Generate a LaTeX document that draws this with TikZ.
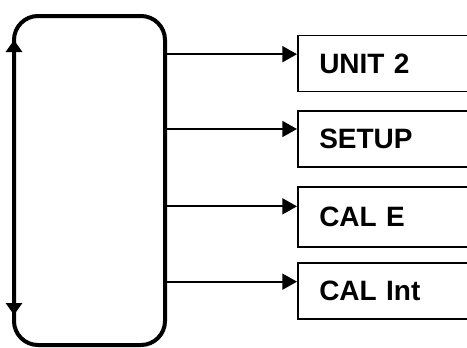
\documentclass[tikz,border=0pt]{standalone}
\usepackage{fontspec}
\setmainfont{Liberation Sans}
\usetikzlibrary{arrows.meta}

\tikzset{
  menuitem/.style={draw, line width=1.4pt, anchor=west, minimum height=42pt,
    text width=120pt, inner xsep=16pt, align=left,
    font=\bfseries\fontsize{21}{25}\selectfont},
  link/.style={line width=1.3pt, -{Triangle[length=11pt,width=12pt]}},
  looptip/.style={line width=3pt, {Triangle[length=9pt,width=12pt]}-{Triangle[length=9pt,width=12pt]}},
}

\begin{document}
\begin{tikzpicture}[x=0.75pt,y=0.75pt,yscale=-1,xscale=1]
\useasboundingbox (0,0) rectangle (467,347);
\clip (0,0) rectangle (467,347);

%Rounded Rect [id:loop]
\node (loop) [draw, line width=3pt, rounded corners=18pt, minimum width=113.25pt,
  minimum height=246.75pt, inner sep=0pt, outer sep=0pt] at (89.5,180.5) {};
%Double Arrow on the left side
\coordinate (up) at ([yshift=18pt]loop.north west);
\coordinate (down) at ([yshift=-22.5pt]loop.south west);
\draw [looptip] (up) -- (down);

% Text Node
\node (unit) [menuitem] at (297,63.5) {UNIT 2};
% Text Node
\node (setup) [menuitem] at (297,139) {SETUP};
% Text Node
\node (cale) [menuitem, minimum height=45pt] at (297,217) {CAL E};
% Text Node
\node (calint) [menuitem] at (297,291) {CAL Int};

%Straight Lines
\coordinate (u1) at ([yshift=-7pt]unit.west);
\coordinate (u2) at ([yshift=-7.5pt]setup.west);
\coordinate (u3) at ([yshift=-8pt]cale.west);
\coordinate (u4) at ([yshift=-7pt]calint.west);
\draw [link] (loop.east |- u1) -- (u1);
\draw [link] (loop.east |- u2) -- (u2);
\draw [link] (loop.east |- u3) -- (u3);
\draw [link] (loop.east |- u4) -- (u4);

\end{tikzpicture}
\end{document}
